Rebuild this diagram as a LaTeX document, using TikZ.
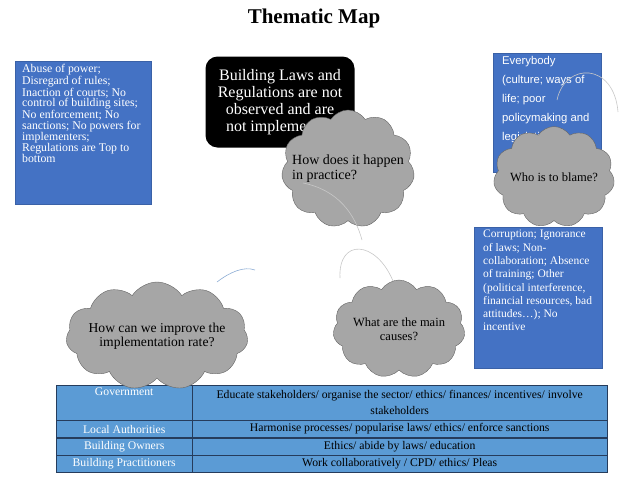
\documentclass[tikz,border=0pt]{standalone}
\usepackage{fontspec}
\setmainfont{Liberation Serif}
\newfontfamily\arialfont{Liberation Sans}
\usetikzlibrary{shapes.symbols}

\definecolor{boxblue}{RGB}{68,114,196}
\definecolor{cellblue}{RGB}{91,155,213}
\definecolor{celledge}{RGB}{38,60,92}
\definecolor{cloudgray}{RGB}{166,166,166}
\definecolor{cloudedge}{RGB}{100,100,100}
\definecolor{linkgray}{RGB}{200,200,200}
\definecolor{linkblue}{RGB}{140,172,212}

\begin{document}
\begin{tikzpicture}[x=1pt, y=-1pt,
    issue/.style={rectangle, draw=boxblue!85!black, fill=boxblue, text=white, anchor=north west, inner xsep=7pt, inner ysep=3pt},
    core/.style={rectangle, rounded corners=12pt, fill=black, text=white, minimum width=149pt, minimum height=91pt, align=center, font=\fontsize{16}{17}\selectfont},
    question/.style={cloud, cloud puffs=11, cloud puff arc=115, cloud ignores aspect, draw=cloudedge, fill=cloudgray, align=center, inner sep=0pt, font=\fontsize{12.5}{14}\selectfont},
    cell/.style={rectangle, draw=celledge, fill=cellblue, anchor=north west, minimum height=17pt, inner sep=1pt, font=\fontsize{11.7}{16}\selectfont},
    head/.style={cell, text=white, minimum width=136pt},
    act/.style={cell, minimum width=415pt, align=center},
    link/.style={draw=linkgray, line width=0.6pt}
]
\useasboundingbox (0,0) rectangle (621,477);

\node[font=\fontsize{21}{24}\selectfont\bfseries] (title) at (314,18) {Thematic Map};

\node[issue, font=\fontsize{11.8}{10.8}\selectfont] (abuse) at (15,61) {\parbox[t][137pt][t]{122pt}{\raggedright Abuse of power;\\ Disregard of rules;\\ Inaction of courts; No\\ control of building sites;\\ No enforcement; No\\ sanctions; No powers for\\ implementers;\\ Regulations are Top to\\ bottom}};
\node[issue, inner xsep=9pt, font=\arialfont\fontsize{11.3}{19}\selectfont] (everybody) at (493,53) {\parbox[t][113pt][t]{90pt}{\raggedright Everybody\\ (culture; ways of\\ life; poor\\ policymaking and\\ legislation;\\ corruption)}};
\node[issue, inner xsep=9pt, font=\fontsize{11.5}{13.3}\selectfont] (corruption) at (474,227) {\parbox[t][135pt][t]{110pt}{\raggedright Corruption; Ignorance\\ of laws; Non-\\ collaboration; Absence\\ of training; Other\\ (political interference,\\ financial resources, bad\\ attitudes…); No\\ incentive}};
\node[core] (laws) at (280,102) {Building Laws and\\ Regulations are not\\ observed and are\\ not implemented};

\node[head, minimum height=35pt, text depth=22pt] (gov) at (56,385) {Government};
\node[act, minimum height=35pt] (govact) at (192,385) {Educate stakeholders/ organise the sector/ ethics/ finances/ incentives/ involve\\ stakeholders};
\node[head] (local) at (gov.south west) {Local Authorities};
\node[act] (localact) at (govact.south west) {Harmonise processes/ popularise laws/ ethics/ enforce sanctions};
\node[head] (owners) at (local.south west) {Building Owners};
\node[act] (ownersact) at (localact.south west) {Ethics/ abide by laws/ education};
\node[head] (pract) at (owners.south west) {Building Practitioners};
\node[act] (practact) at (ownersact.south west) {Work collaboratively / CPD/ ethics/ Pleas};

\node[question, align=left, inner sep=-9pt, minimum width=133pt, minimum height=118pt, font=\fontsize{14}{15}\selectfont] (practice) at (348,169) {How does it happen\\ in practice?};
\node[question, minimum width=116pt, minimum height=101pt] (blame) at (554,177) {Who is to blame?};
\node[question, minimum width=132pt, minimum height=98pt] (causes) at (399,329) {What are the main\\ causes?};
\node[question, inner sep=-3pt, minimum width=182pt, minimum height=108pt, font=\fontsize{13.6}{14}\selectfont] (improve) at (157,336) {How can we improve the\\ implementation rate?};

\coordinate (l1a) at (557,100);
\coordinate (l1b) at (618,112);
\coordinate (l2a) at (303,183);
\coordinate (l2b) at (362,240);
\coordinate (l3a) at (340,278);
\coordinate (l3b) at (393,281);
\coordinate (l4a) at (217,282);
\coordinate (l4b) at (255,270);
\draw[link] (l1a) .. controls (565,62) and (614,62) .. (l1b);
\draw[link] (l2a) .. controls (338,190) and (355,214) .. (l2b);
\draw[link] (l3a) .. controls (338,238) and (376,240) .. (l3b);
\draw[link, draw=linkblue] (l4a) .. controls (230,272) and (244,266) .. (l4b);
\end{tikzpicture}
\end{document}
